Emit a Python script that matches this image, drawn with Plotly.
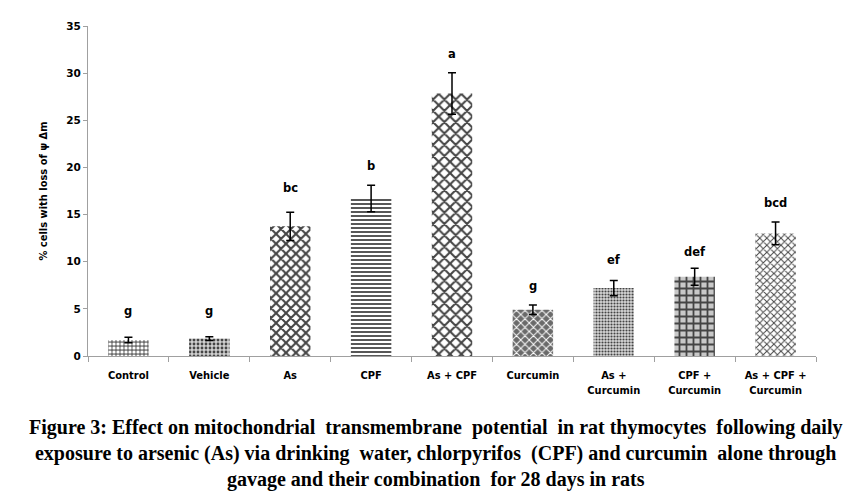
import plotly.graph_objects as go

categories = ["Control", "Vehicle", "As", "CPF", "As + CPF", "Curcumin",
              "As +<br>Curcumin", "CPF +<br>Curcumin", "As + CPF +<br>Curcumin"]
means = [1.7, 1.85, 13.75, 16.7, 27.85, 4.9, 7.2, 8.4, 13.0]
sems = [0.3, 0.2, 1.5, 1.4, 2.2, 0.5, 0.8, 0.9, 1.2]
letters = ["g", "g", "bc", "b", "a", "g", "ef", "def", "bcd"]
letter_y = [4.8, 4.8, 17.8, 20.2, 32.0, 7.4, 10.2, 11.0, 16.2]
y_ticks = [0, 5, 10, 15, 20, 25, 30, 35]

shapes = [".", ".", "x", "-", "x", "x", ".", "+", "x"]
bgs = ["#707070", "#d0d0d0", "#ffffff", "#ffffff", "#ffffff", "#6a6a6a", "#d8d8d8", "#c8c8c8", "#ffffff"]
fgs = ["#404040", "#909090", "#000000", "#000000", "#000000", "#e8e8e8", "#8a8a8a", "#404040", "#505050"]
sizes = [4, 4, 7, 4, 8, 6, 3, 7, 5]
solid = [0.5, 0.4, 0.5, 0.45, 0.45, 0.3, 0.4, 0.45, 0.35]

fig = go.Figure()
fig.add_trace(go.Bar(
    x=categories, y=means, width=0.5,
    marker=dict(color=bgs, line=dict(width=0),
                pattern=dict(shape=shapes, fgcolor=fgs, bgcolor=bgs, fgopacity=1,
                             size=sizes, solidity=solid, fillmode="overlay")),
    error_y=dict(type="data", array=sems, color="black", thickness=1.5, width=4),
    showlegend=False,
))

for c, t, yv in zip(categories, letters, letter_y):
    fig.add_annotation(x=c, y=yv, text="<b>%s</b>" % t, showarrow=False,
                       font=dict(family="DejaVu Sans", size=11.5, color="black"))

caption = ("<b>Figure 3: Effect on mitochondrial  transmembrane  potential  in rat thymocytes  following daily<br>"
           "exposure to arsenic (As) via drinking  water, chlorpyrifos  (CPF) and curcumin  alone through<br>"
           "gavage and their combination  for 28 days in rats</b>")
fig.add_annotation(x=0.478, xref="paper", y=-0.175, yref="paper", yanchor="top",
                   text=caption, showarrow=False, align="center",
                   font=dict(family="Liberation Serif", size=20, color="black"))

fig.update_layout(
    width=860, height=495,
    margin=dict(l=80, r=52, t=16, b=147),
    plot_bgcolor="white", paper_bgcolor="white",
    bargap=0.5,
)
fig.update_xaxes(range=[-0.5, 8.5], showline=True, linecolor="#a0a0a0", linewidth=1,
                 ticks="outside", tickson="boundaries", ticklen=5, tickcolor="#a0a0a0",
                 ticklabelstandoff=9,
                 tickfont=dict(family="DejaVu Sans Condensed", size=11, color="black", weight="bold"),
                 tickangle=0, showgrid=False)
fig.update_yaxes(range=[0, 35], tickvals=y_ticks, showline=True, linecolor="#a0a0a0",
                 linewidth=1, ticks="outside", ticklen=4, tickcolor="#a0a0a0",
                 tickfont=dict(family="DejaVu Sans", size=10.5, color="black", weight="bold"),
                 showgrid=False, zeroline=False,
                 title=dict(text="<b>% cells with loss of ψ Δm</b>",
                            font=dict(family="DejaVu Sans Condensed", size=11, color="black"),
                            standoff=16))

fig.write_html("out.html")
